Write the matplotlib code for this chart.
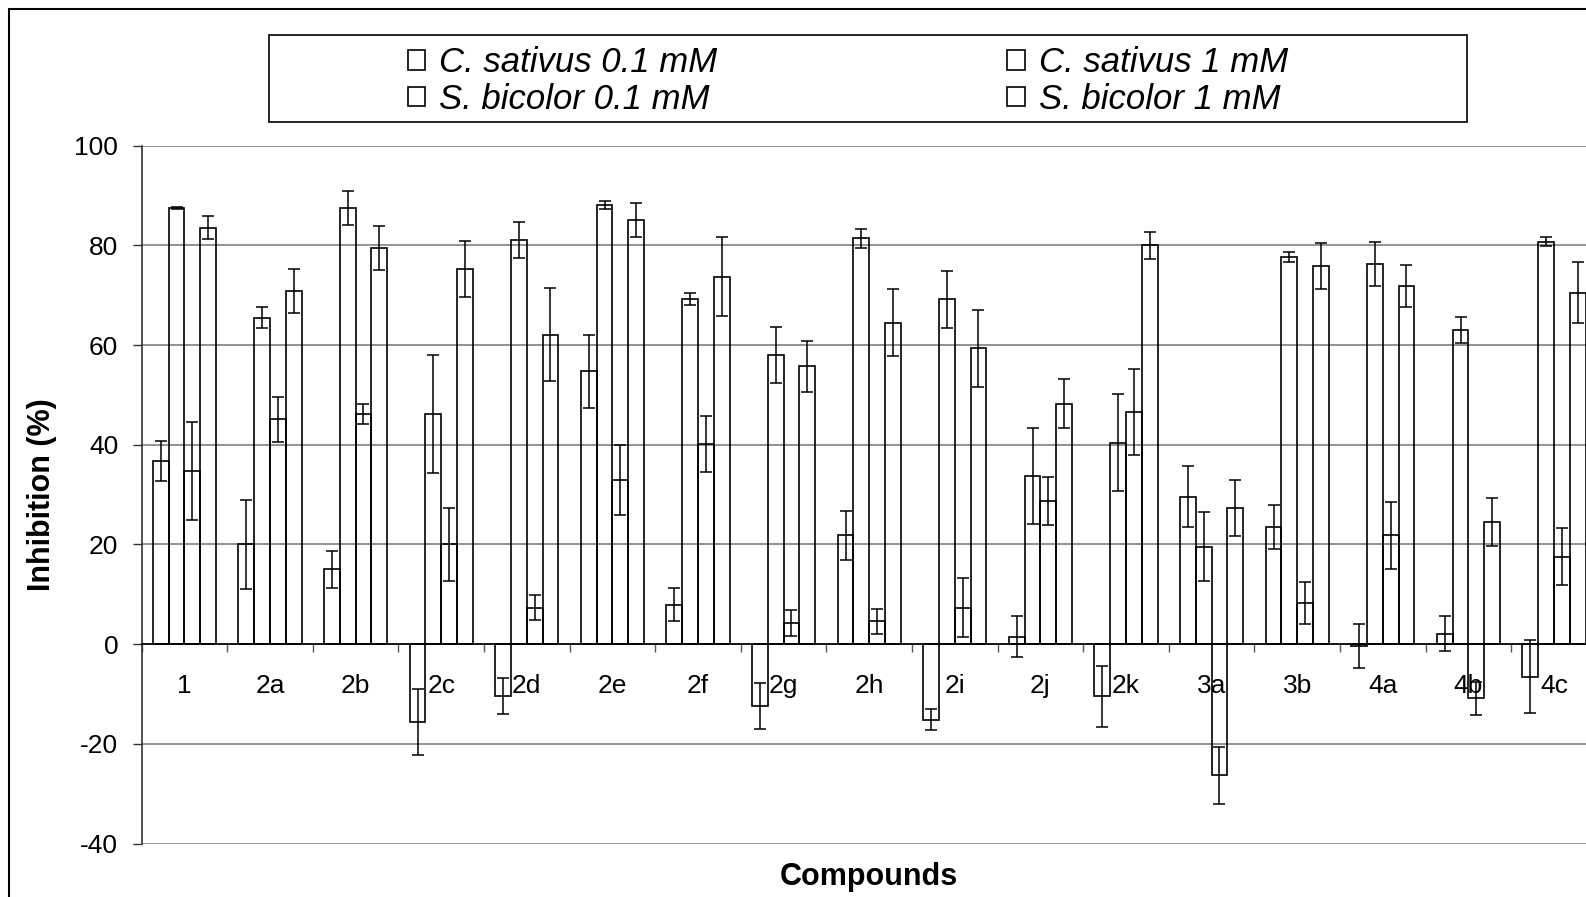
import numpy as np
import matplotlib.pyplot as plt
from matplotlib.patches import Rectangle

plt.rcParams['font.family'] = ['Liberation Sans', 'DejaVu Sans']
plt.rcParams['axes.unicode_minus'] = False

# compounds on the x axis
compounds = ['1', '2a', '2b', '2c', '2d', '2e', '2f', '2g', '2h', '2i',
             '2j', '2k', '3a', '3b', '4a', '4b', '4c']

# inhibition (%) and error for each treatment
cs_01 = [36.7, 20.0, 15.0, -15.6, -10.5, 54.7, 7.9, -12.5, 21.8, -15.2,
         1.5, -10.5, 29.6, 23.5, -0.3, 2.1, -6.5]
cs_01_err = [4.0, 9.0, 3.7, 6.6, 3.6, 7.4, 3.3, 4.6, 5.0, 2.1,
             4.1, 6.2, 6.1, 4.4, 4.4, 3.5, 7.3]
cs_1 = [87.5, 65.5, 87.5, 46.2, 81.0, 88.1, 69.2, 58.0, 81.4, 69.2,
        33.7, 40.4, 19.5, 77.7, 76.3, 63.1, 80.7]
cs_1_err = [0.2, 2.1, 3.4, 11.8, 3.6, 0.8, 1.2, 5.6, 1.9, 5.7,
            9.7, 9.7, 6.9, 1.0, 4.4, 2.6, 0.9]
sb_01 = [34.7, 45.1, 46.2, 20.0, 7.3, 32.9, 40.1, 4.2, 4.6, 7.3,
         28.7, 46.5, -26.3, 8.3, 21.8, -10.9, 17.5]
sb_01_err = [9.8, 4.5, 2.0, 7.3, 2.5, 7.1, 5.6, 2.6, 2.5, 5.9,
             4.8, 8.6, 5.7, 4.2, 6.8, 3.3, 5.7]
sb_1 = [83.5, 70.9, 79.4, 75.3, 62.1, 85.1, 73.7, 55.7, 64.5, 59.3,
        48.2, 80.0, 27.3, 75.9, 71.9, 24.5, 70.5]
sb_1_err = [2.3, 4.4, 4.4, 5.6, 9.3, 3.4, 7.9, 5.1, 6.8, 7.8,
            4.9, 2.7, 5.7, 4.6, 4.2, 4.8, 6.1]

series = [
    ('C. sativus 0.1 mM', cs_01, cs_01_err),
    ('C. sativus 1 mM', cs_1, cs_1_err),
    ('S. bicolor 0.1 mM', sb_01, sb_01_err),
    ('S. bicolor 1 mM', sb_1, sb_1_err),
]

W, H = 1586, 897
fig = plt.figure(figsize=(W / 100, H / 100), dpi=100)
# plot area runs a little past the right edge, like the cropped original
ax = fig.add_axes([141.6 / W, (H - 843.5) / H, 1455.2 / W, 697.9 / H])

x = np.arange(len(compounds))
w = 0.184
handles = {}
for i, (name, vals, err) in enumerate(series):
    b = ax.bar(x + (i - 1.5) * w, vals, w, yerr=err, facecolor='none',
               edgecolor='black', linewidth=1.2, capsize=4.3, zorder=3,
               error_kw=dict(ecolor='black', elinewidth=1.1, capthick=1.1, zorder=4))
    handles[name] = b

ax.set_xlim(-0.5, len(compounds) - 0.5)
ax.set_ylim(-40, 100)
ax.set_yticks(np.arange(-40, 101, 20))
ax.yaxis.grid(True, color='#808080', linewidth=1.2, zorder=0)
ax.set_axisbelow(True)

for s in ['top', 'right']:
    ax.spines[s].set_visible(False)
ax.spines['bottom'].set_position(('data', 0))
ax.spines['bottom'].set_color('black')
ax.spines['bottom'].set_linewidth(1.2)
ax.spines['left'].set_color('#333333')
ax.spines['left'].set_linewidth(1.2)

# group boundaries get the tick marks, group centres get the labels
ax.set_xticks(np.arange(len(compounds) + 1) - 0.5)
ax.set_xticklabels([])
ax.set_xticks(x, minor=True)
ax.set_xticklabels(compounds, minor=True)
ax.tick_params(axis='x', which='major', direction='out', length=6, width=1, color='#555555')
ax.tick_params(axis='x', which='minor', length=0, pad=21.5, labelsize=19)
ax.tick_params(axis='y', direction='out', length=6.3, width=1, color='#333333',
               pad=10.5, labelsize=19)

ax.set_ylabel('Inhibition (%)', fontsize=22, fontweight='bold')
ax.yaxis.set_label_coords(-0.058, 0.5)
ax.set_xlabel('Compounds', fontsize=22, fontweight='bold')
ax.xaxis.set_label_coords(0.5, -0.026)

# legend in its own box at the top
order = ['C. sativus 0.1 mM', 'S. bicolor 0.1 mM', 'C. sativus 1 mM', 'S. bicolor 1 mM']
fig.legend([handles[k] for k in order], order, ncol=2, loc='center left',
           bbox_to_anchor=(408 / W, 1 - 81 / H), frameon=False,
           prop=dict(family='Liberation Sans', style='italic', size=25),
           handlelength=0.5, handleheight=0.5, handletextpad=0.4,
           columnspacing=8.35, labelspacing=0.11, borderpad=0, borderaxespad=0)
fig.patches.append(Rectangle((269 / W, 1 - 121.7 / H), (1467 - 269) / W, 86.7 / H,
                             transform=fig.transFigure, fill=False,
                             edgecolor='black', linewidth=1.2))

# outer chart border (right and bottom sides fall outside the picture)
fig.patches.append(Rectangle((8.5 / W, -0.05), 1.2, 1 - 9 / H + 0.05,
                             transform=fig.transFigure, fill=False,
                             edgecolor='black', linewidth=1.5))

fig.savefig('out.png', dpi=100)
